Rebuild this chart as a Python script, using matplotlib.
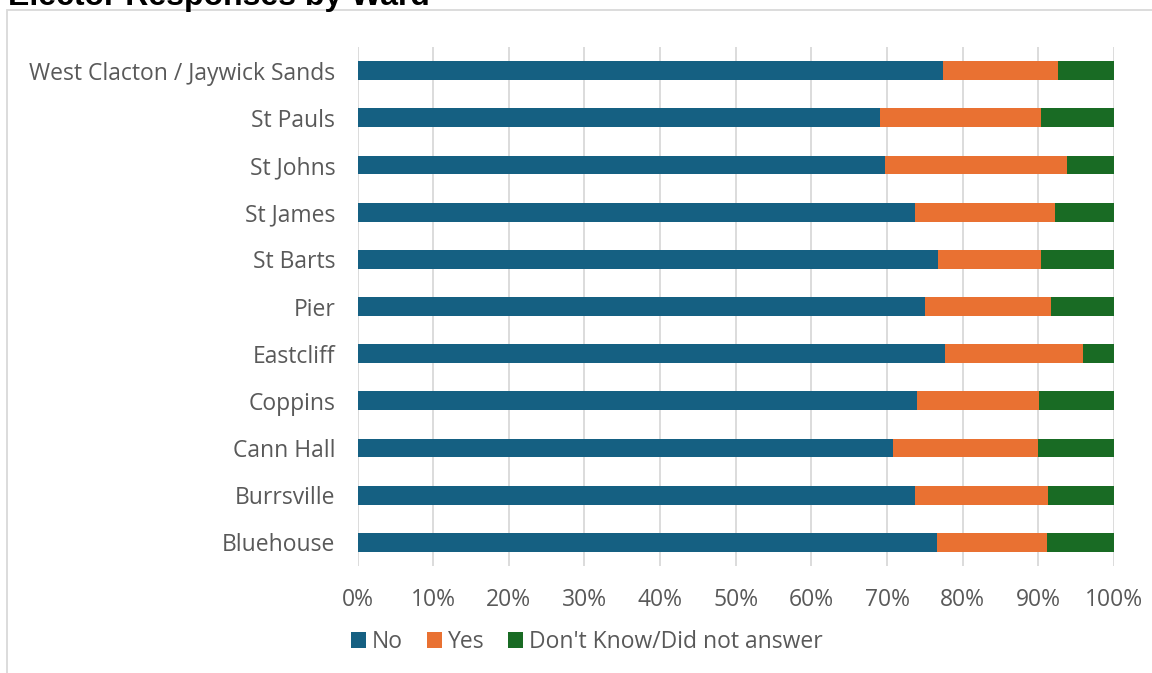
import matplotlib
matplotlib.use("Agg")
import matplotlib.pyplot as plt
from matplotlib.patches import Rectangle, Patch
from matplotlib.ticker import FuncFormatter, MultipleLocator

wards = ["Bluehouse", "Burrsville", "Cann Hall", "Coppins", "Eastcliff", "Pier",
         "St Barts", "St James", "St Johns", "St Pauls", "West Clacton / Jaywick Sands"]
no_pct = [76.6, 73.7, 70.8, 73.9, 77.6, 75.0, 76.8, 73.7, 69.7, 69.1, 77.4]
yes_pct = [14.5, 17.6, 19.2, 16.2, 18.3, 16.7, 13.5, 18.5, 24.1, 21.3, 15.2]
dk_pct = [round(100 - n - y, 1) for n, y in zip(no_pct, yes_pct)]

series_names = ["No", "Yes", "Don't Know/Did not answer"]
colors = ["#156082", "#E97132", "#196B24"]
text_color = "#595959"
grid_color = "#D9D9D9"

plt.rcParams["font.family"] = ["Open Sans", "DejaVu Sans"]

W, H = 1152, 673
fig = plt.figure(figsize=(W / 100, H / 100), dpi=100)

# chart border
fig.patches.append(Rectangle((7 / W, -0.05), 1.2, 1 - 10 / H + 0.05,
                             transform=fig.transFigure, fill=False,
                             edgecolor=grid_color, linewidth=1.3))

fig.text(8 / W, 1 - 5 / H, "Elector Responses by Ward", ha="left", va="baseline",
         fontsize=23, fontweight="bold", color="black",
         family=["Liberation Sans", "DejaVu Sans"])

ax = fig.add_axes([357.5 / W, 1 - 566 / H, (1114 - 357.5) / W, (566 - 47) / H])

ypos = list(range(len(wards)))
left = [0] * len(wards)
for vals, name, c in zip([no_pct, yes_pct, dk_pct], series_names, colors):
    ax.barh(ypos, vals, left=left, height=0.4, color=c, label=name, zorder=3)
    left = [l + v for l, v in zip(left, vals)]

ax.set_xlim(0, 100)
ax.set_ylim(-0.5, len(wards) - 0.5)
ax.xaxis.set_major_locator(MultipleLocator(10))
ax.xaxis.set_major_formatter(FuncFormatter(lambda v, p: f"{v:.0f}%"))
ax.set_yticks(ypos)
ax.set_yticklabels(wards)
ax.grid(axis="x", color=grid_color, linewidth=1.3, zorder=0)
for s in ax.spines.values():
    s.set_visible(False)
ax.tick_params(axis="both", length=0, labelsize=16.5, labelcolor=text_color)
ax.tick_params(axis="y", pad=16)
ax.tick_params(axis="x", pad=16)

handles = [Patch(facecolor=c, label=n) for c, n in zip(colors, series_names)]
fig.legend(handles=handles, loc="center", bbox_to_anchor=(587 / W, 1 - 642 / H),
           ncol=3, frameon=False, fontsize=16.5, labelcolor=text_color,
           handlelength=0.65, handleheight=0.65, handletextpad=0.25,
           columnspacing=1.05)

fig.savefig("out.png", dpi=100)
